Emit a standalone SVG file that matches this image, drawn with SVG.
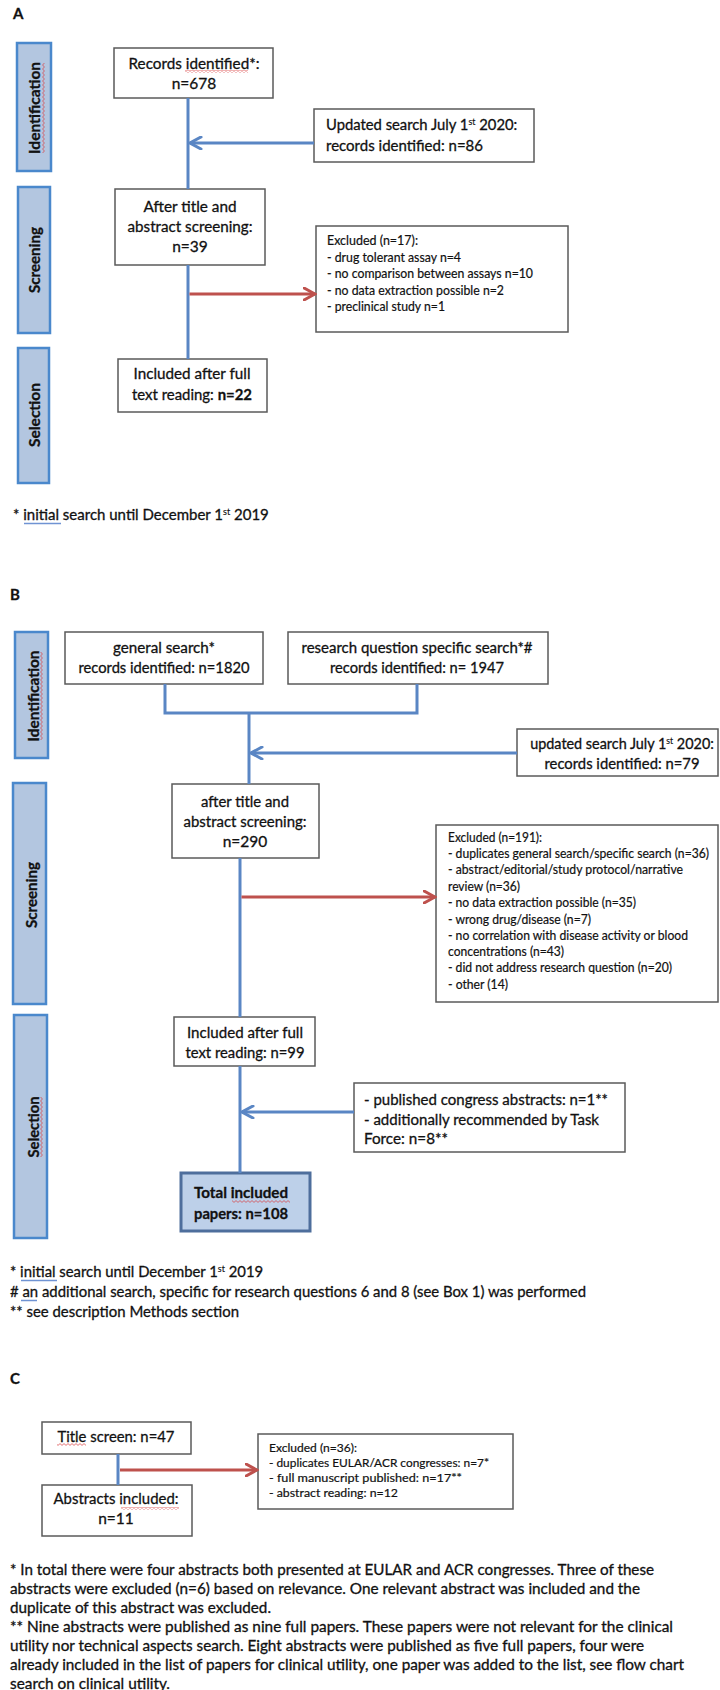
<svg xmlns="http://www.w3.org/2000/svg" width="720" height="1690" viewBox="0 0 720 1690">
<style>
text{font-family:Lato,"Liberation Sans",Arial,sans-serif;fill:#111;stroke:#111;stroke-width:0.3}
.box{fill:#fff;stroke:#5a5a5a;stroke-width:1.5}
.bar{fill:#B3C6E0;stroke:#4A88CC;stroke-width:2.5}
.bart{font-size:15px;font-weight:bold;text-anchor:middle}
.m{font-size:15.5px;text-anchor:middle}
.l{font-size:15.5px}
.s{font-size:12.5px;stroke-width:0.2}
.sc{font-size:12px;stroke-width:0.2}
.f{font-size:15px}
.sup{font-size:60%;stroke-width:0.15}
.lab{font-size:15px;font-weight:bold}
.blue{stroke:#5A86C4;stroke-width:3;fill:none}
.red{stroke:#BE514D;stroke-width:3;fill:none}
.tot{fill:#BDD0E9;stroke:#4E6E9C;stroke-width:3}
.sqr{fill:url(#sq)}
.ul{stroke:#6F93D3;stroke-width:1.5}
</style>
<defs>
<marker id="ab" viewBox="0 0 14 14" markerWidth="14" markerHeight="14" refX="12.5" refY="7" orient="auto" markerUnits="userSpaceOnUse"><path d="M1.5,1 L12.5,7 L1.5,13" fill="none" stroke="#5A86C4" stroke-width="3" stroke-linecap="round"/></marker>
<marker id="ar" viewBox="0 0 14 14" markerWidth="14" markerHeight="14" refX="12.5" refY="7" orient="auto" markerUnits="userSpaceOnUse"><path d="M1.5,1 L12.5,7 L1.5,13" fill="none" stroke="#BE514D" stroke-width="3" stroke-linecap="round"/></marker>
<pattern id="sq" width="4" height="3" patternUnits="userSpaceOnUse"><path d="M0,0.6 L2,2.4 L4,0.6" fill="none" stroke="#D9383A" stroke-width="0.7"/></pattern>
</defs>
<rect width="720" height="1690" fill="#fff"/>

<!-- Panel A -->
<text class="lab" x="13" y="19">A</text>
<g id="A-bar-identification"><rect class="bar" x="17" y="43" width="34" height="128"/><text class="bart" transform="rotate(-90 40 108)" x="40" y="108" textLength="92" lengthAdjust="spacingAndGlyphs">Identification</text><rect class="sqr" x="0" y="0" width="90" height="3" transform="translate(42 153) rotate(-90)"/></g>
<g id="A-bar-screening"><rect class="bar" x="18" y="187" width="32" height="146"/><text class="bart" transform="rotate(-90 40 260)" x="40" y="260" textLength="66" lengthAdjust="spacingAndGlyphs">Screening</text></g>
<g id="A-bar-selection"><rect class="bar" x="18" y="348" width="31" height="135"/><text class="bart" transform="rotate(-90 40 415)" x="40" y="415" textLength="64" lengthAdjust="spacingAndGlyphs">Selection</text></g>

<g id="A-records"><rect class="box" x="114" y="48" width="159" height="50"/>
<text class="m" x="194" y="69" textLength="131" lengthAdjust="spacingAndGlyphs">Records identified*:</text>
<text class="m" x="194" y="89">n=678</text>
<rect class="sqr" x="185" y="70" width="63" height="3"/></g>

<g id="A-updated"><rect class="box" x="314" y="109" width="220" height="53"/>
<text x="326" y="130" font-size="14.8">Updated search July 1<tspan class="sup" baseline-shift="super">st</tspan> 2020:</text>
<text class="l" x="326" y="151" textLength="157" lengthAdjust="spacingAndGlyphs">records identified: n=86</text></g>

<g id="A-after-title"><rect class="box" x="115" y="189" width="150" height="76"/>
<text class="m" x="190" y="212" textLength="93" lengthAdjust="spacingAndGlyphs">After title and</text>
<text class="m" x="190" y="232" textLength="125" lengthAdjust="spacingAndGlyphs">abstract screening:</text>
<text class="m" x="190" y="252">n=39</text></g>

<g id="A-excluded"><rect class="box" x="316" y="226" width="252" height="106"/>
<text class="s" x="327" y="245" textLength="91" lengthAdjust="spacingAndGlyphs">Excluded (n=17):</text>
<text class="s" x="327" y="262" textLength="134" lengthAdjust="spacingAndGlyphs">- drug tolerant assay n=4</text>
<text class="s" x="327" y="278" textLength="206" lengthAdjust="spacingAndGlyphs">- no comparison between assays n=10</text>
<text class="s" x="327" y="295" textLength="177" lengthAdjust="spacingAndGlyphs">- no data extraction possible n=2</text>
<text class="s" x="327" y="311" textLength="118" lengthAdjust="spacingAndGlyphs">- preclinical study n=1</text></g>

<g id="A-included"><rect class="box" x="118" y="359" width="149" height="53"/>
<text class="m" x="192" y="379" textLength="117" lengthAdjust="spacingAndGlyphs">Included after full</text>
<text class="m" x="192" y="400" textLength="120" lengthAdjust="spacingAndGlyphs">text reading: <tspan font-weight="bold">n=22</tspan></text></g>

<g id="A-footnote">
<text x="13" y="520" font-size="15">* initial search until December 1<tspan class="sup" baseline-shift="super">st</tspan> 2019</text>
<line class="ul" x1="24" y1="523.5" x2="61" y2="523.5"/></g>

<!-- Panel B -->
<text class="lab" x="10" y="600">B</text>
<g id="B-bar-identification"><rect class="bar" x="15" y="632" width="33" height="126"/><text class="bart" transform="rotate(-90 39 696)" x="39" y="696" textLength="91" lengthAdjust="spacingAndGlyphs">Identification</text><rect class="sqr" x="0" y="0" width="88" height="3" transform="translate(40 740) rotate(-90)"/></g>
<g id="B-bar-screening"><rect class="bar" x="13" y="783" width="33" height="221"/><text class="bart" transform="rotate(-90 37 895)" x="37" y="895" textLength="66" lengthAdjust="spacingAndGlyphs">Screening</text></g>
<g id="B-bar-selection"><rect class="bar" x="14" y="1015" width="33" height="223"/><text class="bart" transform="rotate(-90 39 1127)" x="39" y="1127" textLength="61" lengthAdjust="spacingAndGlyphs">Selection</text><rect class="sqr" x="0" y="0" width="60" height="3" transform="translate(40 1157) rotate(-90)"/></g>

<g id="B-general"><rect class="box" x="65" y="632" width="198" height="52"/>
<text class="m" x="164" y="653" textLength="102" lengthAdjust="spacingAndGlyphs">general search*</text>
<text class="m" x="164" y="673" textLength="171" lengthAdjust="spacingAndGlyphs">records identified: n=1820</text></g>

<g id="B-specific"><rect class="box" x="288" y="632" width="260" height="52"/>
<text class="m" x="417" y="653" textLength="231" lengthAdjust="spacingAndGlyphs">research question specific search*#</text>
<text class="m" x="417" y="673" textLength="174" lengthAdjust="spacingAndGlyphs">records identified: n= 1947</text></g>

<g id="B-updated"><rect class="box" x="517" y="729" width="201" height="47"/>
<text x="622" y="749" font-size="14.4" text-anchor="middle">updated search July 1<tspan class="sup" baseline-shift="super">st</tspan> 2020:</text>
<text class="m" x="622" y="769" textLength="155" lengthAdjust="spacingAndGlyphs">records identified: n=79</text></g>

<g id="B-after-title"><rect class="box" x="172" y="784" width="147" height="74"/>
<text class="m" x="245" y="807" textLength="88" lengthAdjust="spacingAndGlyphs">after title and</text>
<text class="m" x="245" y="827" textLength="123" lengthAdjust="spacingAndGlyphs">abstract screening:</text>
<text class="m" x="245" y="847">n=290</text></g>

<g id="B-excluded"><rect class="box" x="436" y="825" width="282" height="177"/>
<text class="s" x="448" y="842" textLength="94" lengthAdjust="spacingAndGlyphs">Excluded (n=191):</text>
<text class="s" x="448" y="858" textLength="261" lengthAdjust="spacingAndGlyphs">- duplicates general search/specific search (n=36)</text>
<text class="s" x="448" y="874" textLength="235" lengthAdjust="spacingAndGlyphs">- abstract/editorial/study protocol/narrative</text>
<text class="s" x="448" y="891" textLength="72" lengthAdjust="spacingAndGlyphs">review (n=36)</text>
<text class="s" x="448" y="907" textLength="188" lengthAdjust="spacingAndGlyphs">- no data extraction possible (n=35)</text>
<text class="s" x="448" y="924" textLength="143" lengthAdjust="spacingAndGlyphs">- wrong drug/disease (n=7)</text>
<text class="s" x="448" y="940" textLength="240" lengthAdjust="spacingAndGlyphs">- no correlation with disease activity or blood</text>
<text class="s" x="448" y="956" textLength="116" lengthAdjust="spacingAndGlyphs">concentrations (n=43)</text>
<text class="s" x="448" y="972" textLength="224" lengthAdjust="spacingAndGlyphs">- did not address research question (n=20)</text>
<text class="s" x="448" y="989" textLength="60" lengthAdjust="spacingAndGlyphs">- other (14)</text></g>

<g id="B-included"><rect class="box" x="174" y="1017" width="141" height="49"/>
<text class="m" x="245" y="1038" textLength="116" lengthAdjust="spacingAndGlyphs">Included after full</text>
<text class="m" x="245" y="1058" textLength="119" lengthAdjust="spacingAndGlyphs">text reading: n=99</text></g>

<g id="B-congress"><rect class="box" x="354" y="1083" width="271" height="69"/>
<text class="l" x="364" y="1105" textLength="244" lengthAdjust="spacingAndGlyphs">- published congress abstracts: n=1**</text>
<text class="l" x="364" y="1125" textLength="235" lengthAdjust="spacingAndGlyphs">- additionally recommended by Task</text>
<text class="l" x="364" y="1144" textLength="84" lengthAdjust="spacingAndGlyphs">Force: n=8**</text></g>

<g id="B-total"><rect class="tot" x="181" y="1173" width="129" height="58"/>
<text class="l" x="194" y="1198" font-weight="bold" textLength="94" lengthAdjust="spacingAndGlyphs">Total included</text>
<text class="l" x="194" y="1219" font-weight="bold" textLength="94" lengthAdjust="spacingAndGlyphs">papers: n=108</text>
<rect class="sqr" x="232" y="1200" width="58" height="3"/></g>

<g id="B-footnotes">
<text x="10" y="1277" font-size="14.85">* initial search until December 1<tspan class="sup" baseline-shift="super">st</tspan> 2019</text>
<line class="ul" x1="21" y1="1280.5" x2="57" y2="1280.5"/>
<text class="f" x="10" y="1297" textLength="576" lengthAdjust="spacingAndGlyphs"># an additional search, specific for research questions 6 and 8 (see Box 1) was performed</text>
<line class="ul" x1="21" y1="1300.5" x2="37" y2="1300.5"/>
<text class="f" x="10" y="1317" textLength="229" lengthAdjust="spacingAndGlyphs">** see description Methods section</text></g>

<!-- Panel C -->
<text class="lab" x="10" y="1384">C</text>
<g id="C-title"><rect class="box" x="42" y="1422" width="149" height="32"/>
<text class="m" x="116" y="1442" textLength="117" lengthAdjust="spacingAndGlyphs">Title screen: n=47</text>
<rect class="sqr" x="57" y="1443" width="29" height="3"/></g>

<g id="C-abstracts"><rect class="box" x="42" y="1485" width="150" height="51"/>
<text class="m" x="116" y="1504" textLength="125" lengthAdjust="spacingAndGlyphs">Abstracts included:</text>
<text class="m" x="116" y="1524">n=11</text>
<rect class="sqr" x="121" y="1507" width="58" height="3"/></g>

<g id="C-excluded"><rect class="box" x="258" y="1434" width="255" height="75"/>
<text class="sc" x="269" y="1452" textLength="88" lengthAdjust="spacingAndGlyphs">Excluded (n=36):</text>
<text class="sc" x="269" y="1467" textLength="220" lengthAdjust="spacingAndGlyphs">- duplicates EULAR/ACR congresses: n=7*</text>
<text class="sc" x="269" y="1482" textLength="193" lengthAdjust="spacingAndGlyphs">- full manuscript published: n=17**</text>
<text class="sc" x="269" y="1497" textLength="129" lengthAdjust="spacingAndGlyphs">- abstract reading: n=12</text></g>

<g id="C-footnotes">
<text class="f" x="10" y="1575" textLength="644" lengthAdjust="spacingAndGlyphs">* In total there were four abstracts both presented at EULAR and ACR congresses. Three of these</text>
<text class="f" x="10" y="1594" textLength="630" lengthAdjust="spacingAndGlyphs">abstracts were excluded (n=6) based on relevance. One relevant abstract was included and the</text>
<text class="f" x="10" y="1613" textLength="261" lengthAdjust="spacingAndGlyphs">duplicate of this abstract was excluded.</text>
<text class="f" x="10" y="1632" textLength="663" lengthAdjust="spacingAndGlyphs">** Nine abstracts were published as nine full papers. These papers were not relevant for the clinical</text>
<text class="f" x="10" y="1651" textLength="634" lengthAdjust="spacingAndGlyphs">utility nor technical aspects search. Eight abstracts were published as five full papers, four were</text>
<text class="f" x="10" y="1670" textLength="674" lengthAdjust="spacingAndGlyphs">already included in the list of papers for clinical utility, one paper was added to the list, see flow chart</text>
<text class="f" x="10" y="1689" textLength="160" lengthAdjust="spacingAndGlyphs">search on clinical utility.</text></g>

<g id="connectors">
<line class="blue" x1="188" y1="98" x2="188" y2="189"/>
<line class="blue" x1="314" y1="143" x2="190" y2="143" marker-end="url(#ab)"/>
<line class="blue" x1="188" y1="265" x2="188" y2="359"/>
<line class="red" x1="189.5" y1="294" x2="315" y2="294" marker-end="url(#ar)"/>
<path class="blue" d="M165,684 V713 H417 V684"/>
<line class="blue" x1="249" y1="713" x2="249" y2="784"/>
<line class="blue" x1="517" y1="753" x2="251" y2="753" marker-end="url(#ab)"/>
<line class="blue" x1="240" y1="858" x2="240" y2="1017"/>
<line class="red" x1="241.5" y1="897" x2="435" y2="897" marker-end="url(#ar)"/>
<line class="blue" x1="240" y1="1066" x2="240" y2="1173"/>
<line class="blue" x1="354" y1="1112" x2="242" y2="1112" marker-end="url(#ab)"/>
<line class="blue" x1="118" y1="1454" x2="118" y2="1485" stroke-width="4"/>
<line class="red" x1="120" y1="1470" x2="257" y2="1470" marker-end="url(#ar)"/>
</g>
</svg>
